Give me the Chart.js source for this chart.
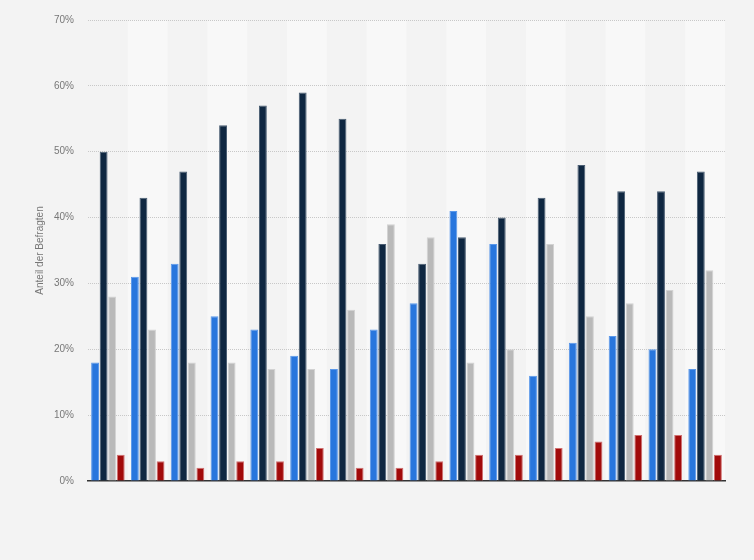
<!DOCTYPE html>
<html>
<head>
<meta charset="utf-8">
<script src="https://cdn.jsdelivr.net/npm/chart.js@4/dist/chart.umd.min.js"></script>
<style>
  html, body { margin: 0; padding: 0; background: #f3f3f3; }
  #wrap { width: 754px; height: 560px; }
</style>
</head>
<body>
<div id="wrap"><canvas id="myChart" width="754" height="560"></canvas></div>
<script>
const categories = ['1', '2', '3', '4', '5', '6', '7', '8', '9', '10', '11', '12', '13', '14', '15', '16'];
const seriesA = [18, 31, 33, 25, 23, 19, 17, 23, 27, 41, 36, 16, 21, 22, 20, 17];
const seriesB = [50, 43, 47, 54, 57, 59, 55, 36, 33, 37, 40, 43, 48, 44, 44, 47];
const seriesC = [28, 23, 18, 18, 17, 17, 26, 39, 37, 18, 20, 36, 25, 27, 29, 32];
const seriesD = [4, 3, 2, 3, 3, 5, 2, 2, 3, 4, 4, 5, 6, 7, 7, 4];
const yTicks = [0, 10, 20, 30, 40, 50, 60, 70];

// alternating column bands behind the bars
const bandPlugin = {
  id: 'bands',
  beforeDraw(chart) {
    const { ctx, chartArea, scales } = chart;
    const x = scales.x;
    ctx.save();
    for (let i = 0; i < categories.length; i++) {
      if (i % 2 === 1) {
        const c = x.getPixelForValue(i);
        const half = (x.getPixelForValue(1) - x.getPixelForValue(0)) / 2;
        ctx.fillStyle = '#f8f8f8';
        ctx.fillRect(c - half, chartArea.top, half * 2, chartArea.bottom - chartArea.top);
      }
    }
    ctx.restore();
  }
};

const makeSet = (label, data, color, border) => ({
  label,
  data,
  backgroundColor: color,
  borderColor: border,
  borderWidth: 1,
  barPercentage: 0.92,
  categoryPercentage: 0.86,
});

const canvas = document.getElementById('myChart');
new Chart(canvas, {
  type: 'bar',
  data: {
    labels: categories,
    datasets: [
      makeSet('A', seriesA, '#2876dd', '#5a98ea'),
      makeSet('B', seriesB, '#0f2741', '#4a5d72'),
      makeSet('C', seriesC, '#b9b9b9', '#d2d2d2'),
      makeSet('D', seriesD, '#a10a0a', '#d07070'),
    ],
  },
  options: {
    responsive: false,
    animation: false,
    layout: { padding: { top: 14, right: 29, bottom: 0, left: 0 } },
    plugins: {
      legend: { display: false },
      tooltip: { enabled: false },
    },
    scales: {
      x: {
        grid: { display: false },
        border: { display: true, color: '#333333', width: 1.5 },
        ticks: { display: false },
        afterFit(scale) { scale.height = 79; },
      },
      y: {
        min: 0,
        max: 70,
        afterBuildTicks(scale) { scale.ticks = yTicks.map(v => ({ value: v })); },
        ticks: {
          color: '#777777',
          font: { family: 'Arial, "Liberation Sans", sans-serif', size: 10 },
          padding: 14,
          callback: (v) => v + '%',
        },
        grid: {
          color: (ctx) => ctx.tick.value === 0 ? 'rgba(0,0,0,0)' : '#c8c8c8',
          drawTicks: false,
        },
        border: { display: false, dash: [1, 1] },
        title: {
          display: true,
          text: 'Anteil der Befragten',
          color: '#777777',
          font: { family: 'Arial, "Liberation Sans", sans-serif', size: 10 },
          padding: { top: 34, bottom: 0 },
        },
        afterFit(scale) { scale.width = 88; },
      },
    },
  },
  plugins: [bandPlugin],
});
</script>
</body>
</html>
